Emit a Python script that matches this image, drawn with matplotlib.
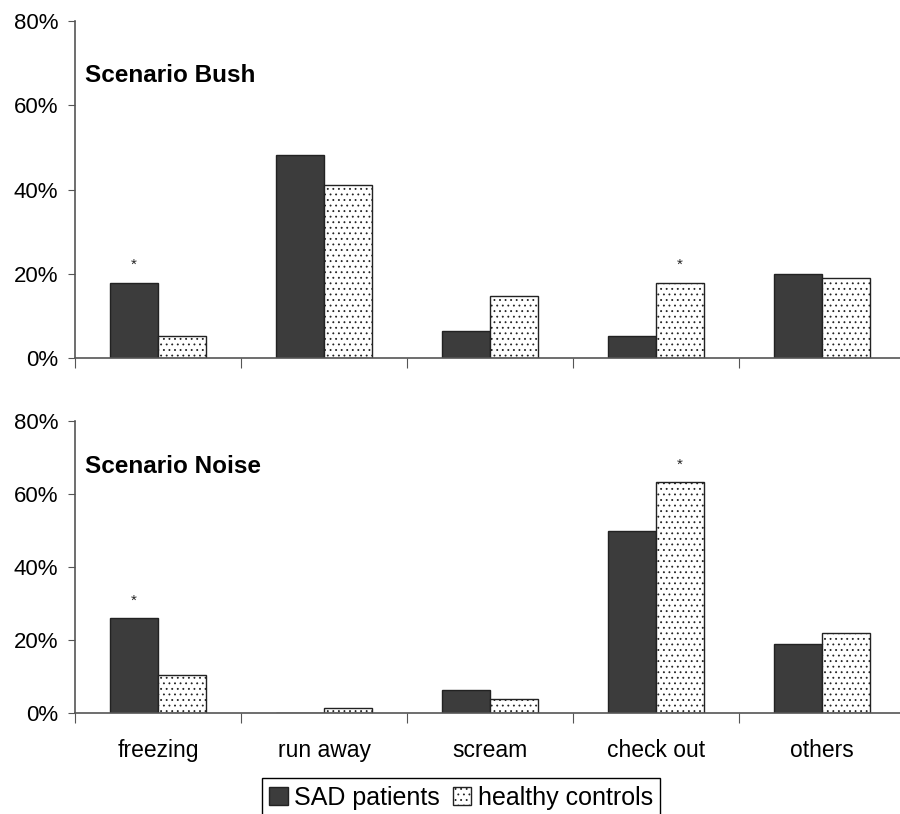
import matplotlib
matplotlib.use("Agg")
import matplotlib.pyplot as plt
import numpy as np

plt.rcParams['font.family'] = ['Liberation Sans', 'DejaVu Sans']
plt.rcParams['hatch.linewidth'] = 0.6

categories = ["freezing", "run away", "scream", "check out", "others"]
series_names = ["SAD patients", "healthy controls"]
bush_sad = [17.9, 48.2, 6.3, 5.3, 20.0]
bush_hc = [5.3, 41.1, 14.7, 17.9, 19.1]
noise_sad = [26.1, 0.0, 6.2, 49.8, 19.0]
noise_hc = [10.5, 1.3, 3.7, 63.4, 22.0]
bush_sig = [(0, 0), (3, 1)]   # (category index, series index) with *
noise_sig = [(0, 0), (3, 1)]
yticks = [0, 20, 40, 60, 80]

W, H = 900, 814
fig = plt.figure(figsize=(W / 100, H / 100), dpi=100)

def px_axes(x0, y0, x1, y1):
    return fig.add_axes([x0 / W, 1 - y1 / H, (x1 - x0) / W, (y1 - y0) / H])

ax_top = px_axes(75, 21, 905, 358)
ax_bot = px_axes(75, 421, 905, 713)

bw = 0.29
spine_col = "#555555"

def draw(ax, sad, hc, sig, title, show_xlabels, title_y):
    x = np.arange(len(categories))
    b1 = ax.bar(x - bw / 2, sad, bw, color="#3c3c3c", edgecolor="#222222", linewidth=1.0,
                label=series_names[0])
    b2 = ax.bar(x + bw / 2, hc, bw, color="white", edgecolor="#222222", linewidth=1.0,
                hatch="...", label=series_names[1])
    vals = [sad, hc]
    for ci, si in sig:
        xpos = x[ci] + (-bw / 2 if si == 0 else bw / 2)
        ax.text(xpos, vals[si][ci] + 2.6, "*", ha="center", va="bottom", fontsize=11,
                color="#222222")
    ax.set_xlim(-0.5, len(categories) - 0.5)
    ax.set_ylim(0, 80)
    ax.set_yticks(yticks)
    ax.set_yticklabels([f"{v}%" for v in yticks], fontsize=16)
    ax.set_xticks(np.arange(len(categories) + 1) - 0.5)
    ax.set_xticklabels([])
    ax.set_xticks(x, minor=True)
    if show_xlabels:
        ax.set_xticklabels(categories, minor=True, fontsize=16.5)
    ax.tick_params(axis="x", which="minor", length=0, pad=19)
    ax.tick_params(axis="x", which="major", length=7, direction="out", color=spine_col)
    ax.tick_params(axis="y", length=5, direction="out", color=spine_col, pad=7)
    for s in ["top", "right"]:
        ax.spines[s].set_visible(False)
    for s in ["left", "bottom"]:
        ax.spines[s].set_color(spine_col)
        ax.spines[s].set_linewidth(1.2)
    ax.text(10 / 830, title_y, title, transform=ax.transAxes,
            fontsize=17.5, fontweight="bold", va="center", ha="left")
    return b1, b2

draw(ax_top, bush_sad, bush_hc, bush_sig, "Scenario Bush", False, 1 - (76 - 21) / 337)
b1, b2 = draw(ax_bot, noise_sad, noise_hc, noise_sig, "Scenario Noise", True, 1 - (467 - 421) / 292)

leg = fig.legend([b1, b2], series_names, loc="upper center",
                 bbox_to_anchor=(461 / W, 1 - 778 / H), ncol=2, fontsize=18,
                 frameon=True, fancybox=False, edgecolor="black", framealpha=1,
                 handlelength=0.75, handleheight=0.75, handletextpad=0.25,
                 columnspacing=0.5, borderpad=0.3, borderaxespad=0)
leg.get_frame().set_linewidth(1.0)

fig.savefig("out.png", dpi=100)
